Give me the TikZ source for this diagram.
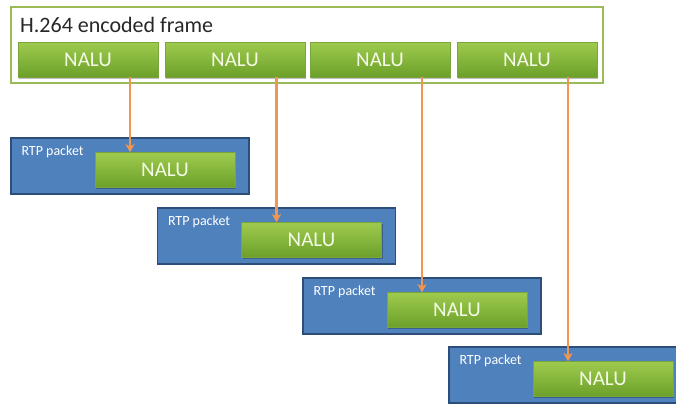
\documentclass[tikz,border=0pt]{standalone}
\usepackage{fontspec}
\setmainfont{Carlito}
\usetikzlibrary{arrows.meta,shadows}
\definecolor{naluTop}{RGB}{158,203,78}
\definecolor{naluBot}{RGB}{108,160,42}
\definecolor{naluEdge}{RGB}{122,165,60}
\definecolor{frameEdge}{RGB}{155,187,89}
\definecolor{pktFill}{RGB}{79,129,189}
\definecolor{pktEdge}{RGB}{45,78,122}
\definecolor{arrowOrange}{RGB}{240,150,80}
\definecolor{titleText}{RGB}{40,40,40}
\definecolor{naluText}{RGB}{245,250,230}
\begin{document}
\begin{tikzpicture}[x=1pt,y=-1pt,
  nalu/.style={rectangle, minimum width=140pt, minimum height=35pt, inner sep=0pt,
    top color=naluTop, bottom color=naluBot, draw=naluEdge, line width=0.6pt,
    text=naluText, font=\fontsize{21}{24}\selectfont,
    drop shadow={shadow xshift=1pt, shadow yshift=-1.5pt, fill=black, opacity=0.25}},
  packet/.style={rectangle, minimum width=238pt, minimum height=56pt, inner sep=0pt,
    fill=pktFill, draw=pktEdge, line width=1.4pt},
  frame/.style={rectangle, minimum width=592pt, minimum height=76pt, inner sep=0pt,
    fill=white, draw=frameEdge, line width=2pt},
  pktlabel/.style={anchor=west, inner sep=0pt, text=white, font=\fontsize{14}{16}\selectfont},
  link/.style={draw=arrowOrange, line width=2.5pt,
    -{Stealth[length=8pt, width=9pt, inset=2pt]}}
]
\useasboundingbox (0,0) rectangle (676,405);
\clip (0,0) rectangle (676,405);

% encoded frame with its four NAL units
\node[frame] (frame) at (307,45) {};
\node[anchor=base west, inner sep=0pt, text=titleText, font=\fontsize{22}{26}\selectfont]
  (title) at (20,32) {H.264 encoded frame};
\node[nalu] (t1) at (88,59.5) {NALU};
\node[nalu] (t2) at (235,59.5) {NALU};
\node[nalu] (t3) at (380,59.5) {NALU};
\node[nalu] (t4) at (527,59.5) {NALU};

% one RTP packet per NAL unit
\foreach \i/\x/\y in {1/130/166, 2/276.5/236, 3/422/306, 4/568/375} {
  \node[packet] (p\i) at (\x,\y) {};
  \node[pktlabel] (l\i) at ([xshift=11pt, yshift=-14pt]p\i.north west) {RTP packet};
  \node[nalu] (n\i) at ([xshift=35pt, yshift=-4pt]p\i.center) {NALU};
}

% payload mapping
\foreach \i in {1,2,3,4} {
  \draw[link] (p\i.center |- t\i.south) -- (p\i.center |- n\i.north);
}
\end{tikzpicture}
\end{document}
